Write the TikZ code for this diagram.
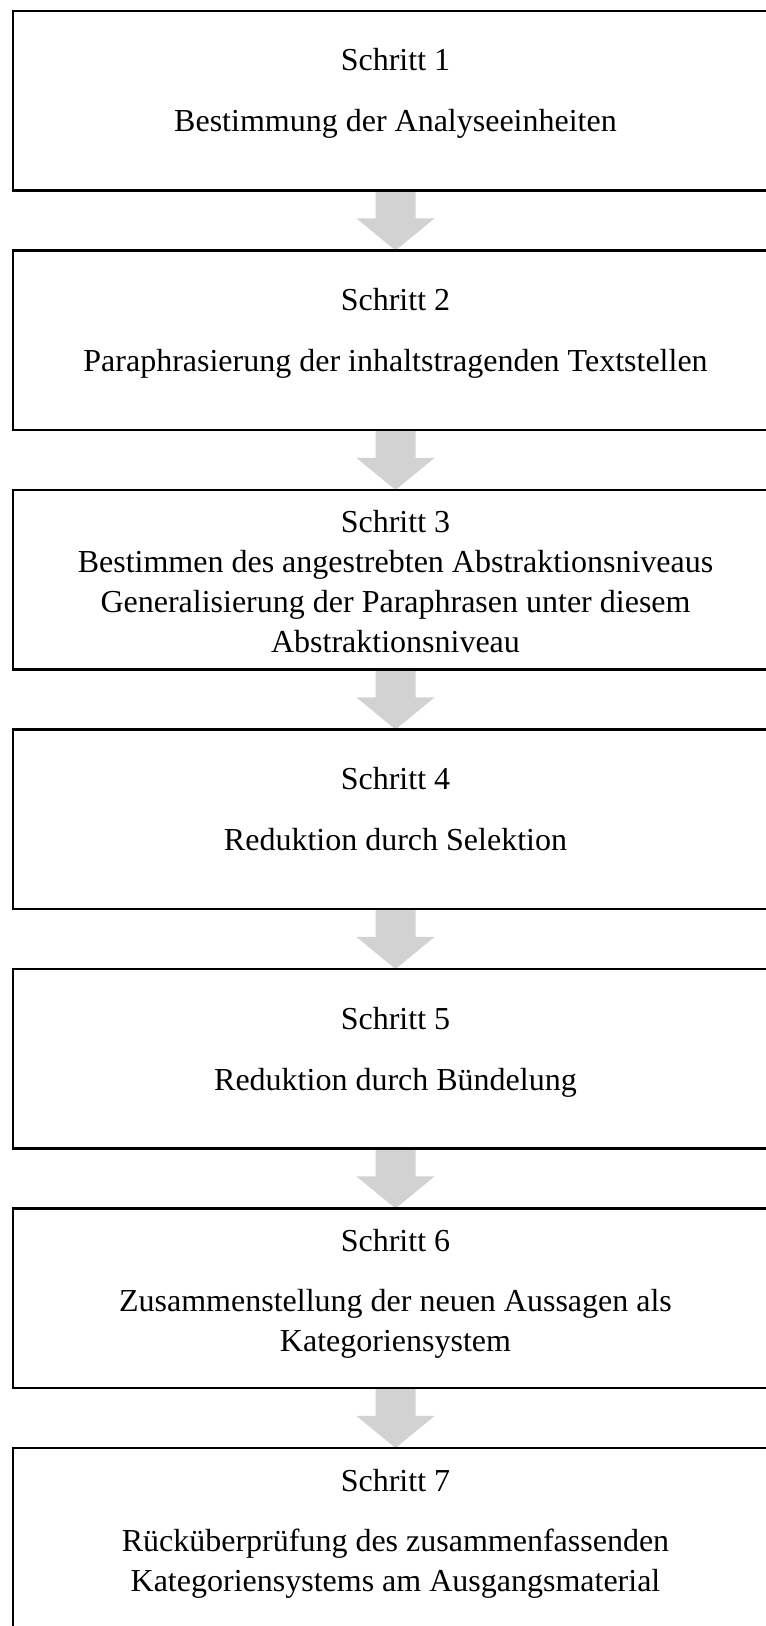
\documentclass[tikz,border=0pt]{standalone}
\usepackage{fontspec}
\setmainfont{Liberation Serif}
\usetikzlibrary{calc,backgrounds}
\definecolor{arrowgrey}{RGB}{210,210,210}
\tikzset{
  stepbox/.style={draw=black, line width=1.9pt, rectangle, inner sep=0pt, outer sep=0pt,
    minimum width=573.75pt, minimum height=134.6pt, anchor=north west},
  steptext/.style={font=\fontsize{24pt}{28pt}\selectfont, anchor=base, inner sep=0pt, outer sep=0pt},
}
\newcommand{\grossarrow}[2]{%
  \fill[arrowgrey] ($(#1.south)+(-20,0)$) -- ($(#1.south)+(20,0)$) -- ($(#1.south)+(20,28)$)
    -- ($(#1.south)+(39,28)$) -- (#2.north) -- ($(#1.south)+(-39,28)$) -- ($(#1.south)+(-20,28)$) -- cycle;}
\begin{document}
\begin{tikzpicture}[x=0.75pt,y=-0.75pt]
\useasboundingbox (0,0) rectangle (766,1626);
% boxes
\node[stepbox] (b1) at (13,11) {};
\node[stepbox] (b2) at (13,250.5) {};
\node[stepbox] (b3) at (13,490) {};
\node[stepbox] (b4) at (13,729.5) {};
\node[stepbox] (b5) at (13,969) {};
\node[stepbox] (b6) at (13,1208.5) {};
\node[stepbox] (b7) at (13,1448) {};
% texts
\node[steptext] (t1a) at ($(b1.north)+(0,60)$) {Schritt 1};
\node[steptext] (t1b) at ($(b1.north)+(0,121)$) {Bestimmung der Analyseeinheiten};
\node[steptext] (t2a) at ($(b2.north)+(0,60)$) {Schritt 2};
\node[steptext] (t2b) at ($(b2.north)+(0,121)$) {Paraphrasierung der inhaltstragenden Textstellen};
\node[steptext] (t3a) at ($(b3.north)+(0,42)$) {Schritt 3};
\node[steptext] (t3b) at ($(b3.north)+(0,82)$) {Bestimmen des angestrebten Abstraktionsniveaus};
\node[steptext] (t3c) at ($(b3.north)+(0,122)$) {Generalisierung der Paraphrasen unter diesem};
\node[steptext] (t3d) at ($(b3.north)+(0,162)$) {Abstraktionsniveau};
\node[steptext] (t4a) at ($(b4.north)+(0,60)$) {Schritt 4};
\node[steptext] (t4b) at ($(b4.north)+(0,121)$) {Reduktion durch Selektion};
\node[steptext] (t5a) at ($(b5.north)+(0,60)$) {Schritt 5};
\node[steptext] (t5b) at ($(b5.north)+(0,121)$) {Reduktion durch Bündelung};
\node[steptext] (t6a) at ($(b6.north)+(0,43)$) {Schritt 6};
\node[steptext] (t6b) at ($(b6.north)+(0,103)$) {Zusammenstellung der neuen Aussagen als};
\node[steptext] (t6c) at ($(b6.north)+(0,143)$) {Kategoriensystem};
\node[steptext] (t7a) at ($(b7.north)+(0,43)$) {Schritt 7};
\node[steptext] (t7b) at ($(b7.north)+(0,103)$) {Rücküberprüfung des zusammenfassenden};
\node[steptext] (t7c) at ($(b7.north)+(0,143)$) {Kategoriensystems am Ausgangsmaterial};
% arrows
\begin{scope}[on background layer]
\grossarrow{b1}{b2}
\grossarrow{b2}{b3}
\grossarrow{b3}{b4}
\grossarrow{b4}{b5}
\grossarrow{b5}{b6}
\grossarrow{b6}{b7}
\end{scope}
\end{tikzpicture}
\end{document}
